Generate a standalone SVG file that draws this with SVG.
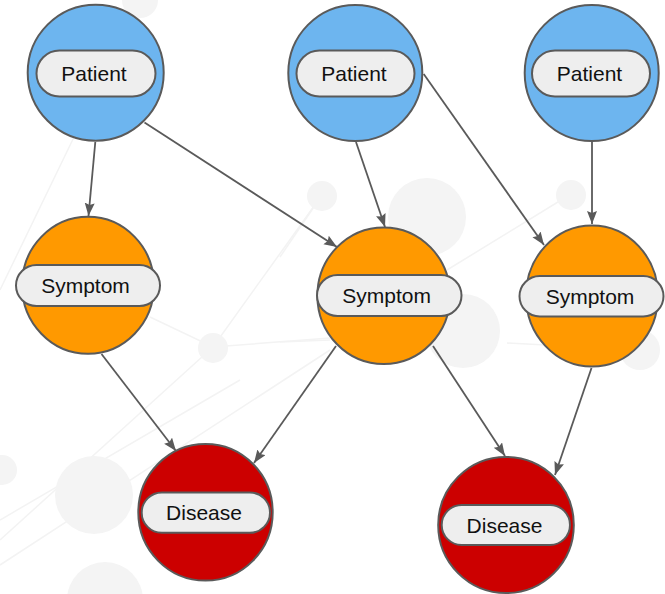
<svg xmlns="http://www.w3.org/2000/svg" width="665" height="594" viewBox="0 0 665 594">
<style>
.bgc{fill:#f4f4f4}
.bgl{stroke:#f3f3f3;stroke-width:1.5;fill:none}
.node{stroke:#5a5a5a;stroke-width:2}
.patient{fill:#6db5ef}
.symptom{fill:#ff9900}
.disease{fill:#cc0000}
.pill{fill:#eeeeee;stroke:#5a5a5a;stroke-width:2}
.lbl{font-family:"Liberation Sans",Arial,sans-serif;font-size:21px;fill:#111;text-anchor:middle}
.edge{stroke:#5a5a5a;stroke-width:1.8;fill:none;marker-end:url(#arr)}
</style>
<defs>
<marker id="arr" markerUnits="userSpaceOnUse" markerWidth="14" markerHeight="12" refX="13" refY="5" orient="auto">
<path d="M0,0 L13,5 L0,10 L2,5 z" fill="#5a5a5a"/>
</marker>
</defs>
<rect width="665" height="594" fill="#ffffff"/>
<g id="background">
<path class="bgl" d="M0,290 L75,135"/>
<path class="bgl" d="M322,195 L213,347"/>
<path class="bgl" d="M150,317 L213,347 L330,338"/>
<path class="bgl" d="M213,347 L0,540"/>
<path class="bgl" d="M0,565 L330,350"/>
<path class="bgl" d="M0,520 L240,380"/>
<path class="bgl" d="M280,257 L322,195"/>
<path class="bgl" d="M447,270 L571,194"/>
<path class="bgl" d="M280,342 L330,340"/>
<path class="bgl" d="M507,343 L640,350"/>
<circle class="bgc" cx="140" cy="0" r="18"/>
<circle class="bgc" cx="322" cy="196" r="15"/>
<circle class="bgc" cx="427" cy="217" r="39"/>
<circle class="bgc" cx="571" cy="195" r="15"/>
<circle class="bgc" cx="463" cy="331" r="37"/>
<circle class="bgc" cx="640" cy="350" r="20"/>
<circle class="bgc" cx="213" cy="348" r="15"/>
<circle class="bgc" cx="94" cy="495" r="39"/>
<circle class="bgc" cx="105" cy="600" r="38"/>
<circle class="bgc" cx="2" cy="470" r="15"/>
</g>
<g id="connectors">
<path class="edge" d="M95.3,142 L88.5,216"/>
<path class="edge" d="M144.5,122.5 L337,247"/>
<path class="edge" d="M356,142 L385,227"/>
<path class="edge" d="M423.7,74 L544,245"/>
<path class="edge" d="M592,142 L592,224"/>
<path class="edge" d="M101.5,354 L176,451"/>
<path class="edge" d="M336,346 L254,463"/>
<path class="edge" d="M433,346 L505,456"/>
<path class="edge" d="M591.5,368 L555,475"/>
</g>
<g id="patient1">
<ellipse class="node patient" cx="95.7" cy="72.7" rx="68" ry="68"/>
<rect class="pill" x="36.5" y="50.5" width="119" height="46" rx="23"/>
<text class="lbl" x="94" y="81">Patient</text>
</g>
<g id="patient2">
<ellipse class="node patient" cx="355.3" cy="73" rx="67" ry="68"/>
<rect class="pill" x="296.5" y="50.5" width="118" height="46" rx="23"/>
<text class="lbl" x="354" y="81">Patient</text>
</g>
<g id="patient3">
<ellipse class="node patient" cx="591.7" cy="73" rx="67" ry="68"/>
<rect class="pill" x="532" y="50.5" width="118" height="46" rx="23"/>
<text class="lbl" x="589.5" y="81">Patient</text>
</g>
<g id="symptom1">
<ellipse class="node symptom" cx="88" cy="285.3" rx="66" ry="68.5"/>
<rect class="pill" x="16" y="265" width="144" height="41" rx="20.5"/>
<text class="lbl" x="85.5" y="293">Symptom</text>
</g>
<g id="symptom2">
<ellipse class="node symptom" cx="383.7" cy="295.7" rx="66.3" ry="68.3"/>
<rect class="pill" x="317" y="275" width="144.5" height="41" rx="20.5"/>
<text class="lbl" x="386.7" y="303">Symptom</text>
</g>
<g id="symptom3">
<ellipse class="node symptom" cx="592" cy="296" rx="66" ry="70.5"/>
<rect class="pill" x="519.5" y="276" width="144" height="40.5" rx="20.25"/>
<text class="lbl" x="590" y="303.7">Symptom</text>
</g>
<g id="disease1">
<ellipse class="node disease" cx="205.5" cy="512.3" rx="67.2" ry="68.3"/>
<rect class="pill" x="141.7" y="492.5" width="128.3" height="40.3" rx="20.15"/>
<text class="lbl" x="204" y="520">Disease</text>
</g>
<g id="disease2">
<ellipse class="node disease" cx="506" cy="525" rx="67.8" ry="68"/>
<rect class="pill" x="441.7" y="505" width="128.3" height="40" rx="20"/>
<text class="lbl" x="504.5" y="532.5">Disease</text>
</g>
</svg>
